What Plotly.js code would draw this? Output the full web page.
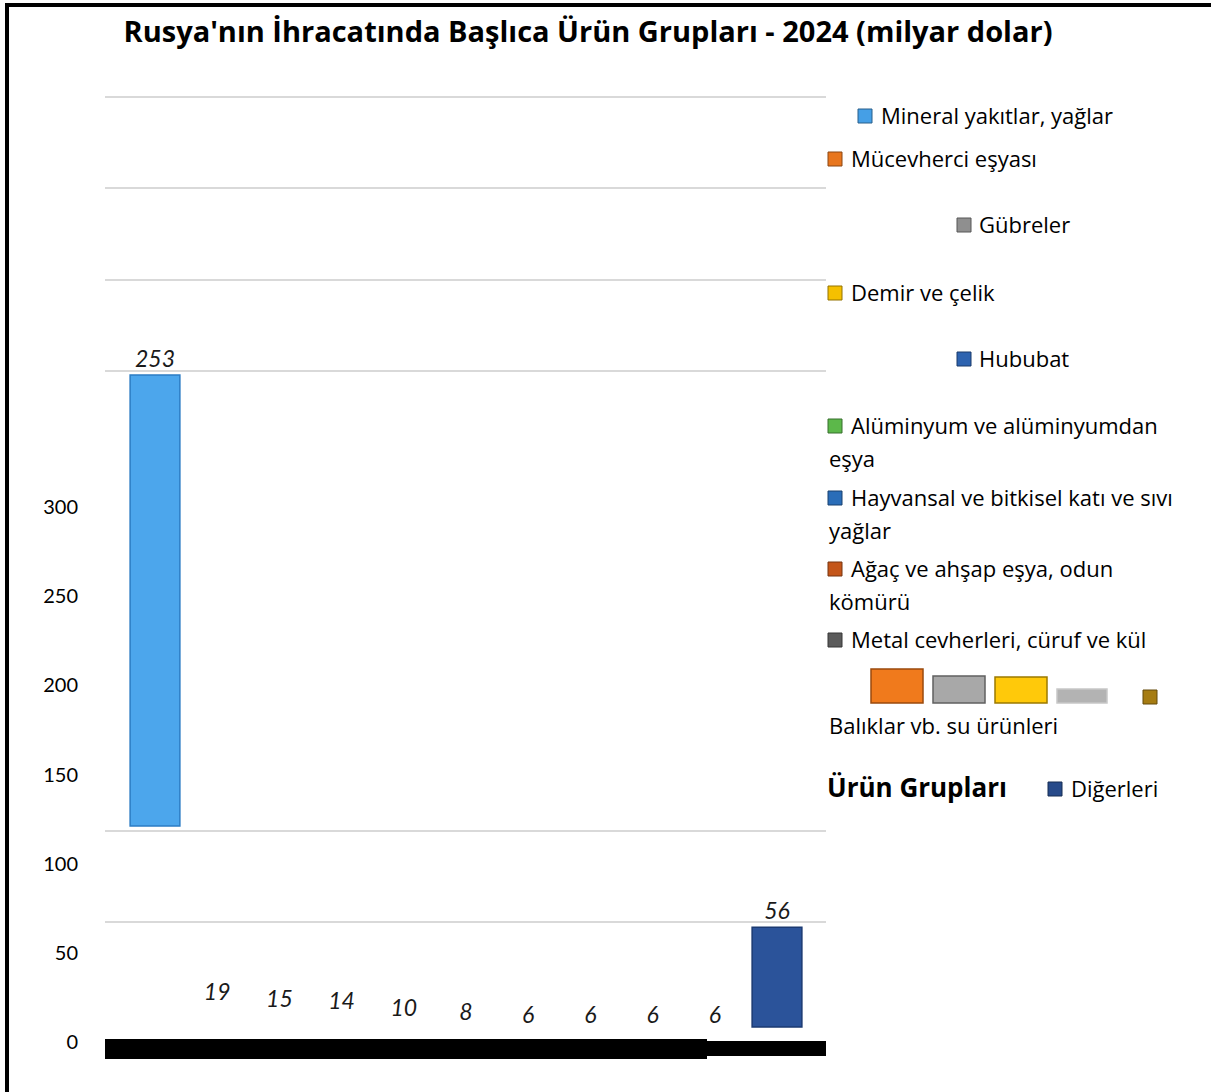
<!DOCTYPE html>
<html><head><meta charset="utf-8">
<script src="https://cdn.plot.ly/plotly-3.0.1.min.js"></script>
<style>html,body{margin:0;padding:0;background:#fff;}#chart{width:1215px;height:1092px;}</style>
</head><body><div id="chart"></div>
<script>
// ---------------- data ----------------
const categories = [
  'Mineral yakıtlar, yağlar',
  'Mücevherci eşyası',
  'Gübreler',
  'Demir ve çelik',
  'Hububat',
  'Alüminyum ve alüminyumdan eşya',
  'Hayvansal ve bitkisel katı ve sıvı yağlar',
  'Ağaç ve ahşap eşya, odun kömürü',
  'Metal cevherleri, cüruf ve kül',
  'Balıklar vb. su ürünleri',
  'Diğerleri'
];
const values = [253, 19, 15, 14, 10, 8, 6, 6, 6, 6, 56];
const colors = ['#459fe6', '#e8761e', '#8f8f8f', '#f5c000', '#2d63b0', '#5cb84a',
                '#2a6db8', '#c4561a', '#5b5b5b', '#a67c12', '#274a8a'];
const yTickValues = [0, 50, 100, 150, 200, 250, 300];
const titleText = "Rusya'nın İhracatında Başlıca Ürün Grupları - 2024 (milyar dolar)";
const legendTitle = 'Ürün Grupları';

// ---------------- layout geometry ----------------
const W = 1215, H = 1092, L = 105, R = 826, T = 97, B = 1042;
const px = x => (x - L) / (R - L);
const py = y => (B - y) / (B - T);
const yMax = 530;
const unitPx = (B - T) / yMax;
const rangeWithBaseline = basePx => { const off = (B - basePx) / unitPx; return [-off, yMax - off]; };

const FONT = 'Lato, "Open Sans", sans-serif';
const TEXTFONT = '"Open Sans", Lato, sans-serif';
const labelFont = {family: FONT, size: 23, color: '#1a1a1a', style: 'italic'};

const first = 0, last = categories.length - 1;
const mid = categories.map((c, i) => i).filter(i => i !== first && i !== last);

const traces = [
  {
    type: 'bar', x: mid.map(i => categories[i]), y: mid.map(i => values[i]),
    marker: {color: 'rgba(0,0,0,0)'}, texttemplate: '%{y}', textposition: 'outside',
    textfont: labelFont, cliponaxis: false, constraintext: 'none',
    yaxis: 'y', hoverinfo: 'skip', showlegend: false
  },
  {
    type: 'bar', x: [categories[first]], y: [values[first]],
    marker: {color: '#4ca6ec', line: {color: '#2b7cc4', width: 1.5}},
    texttemplate: '%{y}', textposition: 'outside', textfont: labelFont,
    cliponaxis: false, constraintext: 'none', yaxis: 'y2', hoverinfo: 'skip', showlegend: false
  },
  {
    type: 'bar', x: [categories[last]], y: [values[last]],
    marker: {color: '#2b539a', line: {color: '#1b3a72', width: 1.5}},
    texttemplate: '%{y}', textposition: 'outside', textfont: labelFont,
    cliponaxis: false, constraintext: 'none', yaxis: 'y3', hoverinfo: 'skip', showlegend: false
  }
];

// ---------------- decorations ----------------
const shapes = [];
const gridPx = [97, 188, 280, 371, 831, 922];
gridPx.forEach(g => shapes.push({type: 'line', xref: 'paper', yref: 'paper', x0: 0, x1: 1,
  y0: py(g), y1: py(g), line: {color: '#d9d9d9', width: 2}, layer: 'below'}));
// heavy base line
shapes.push({type: 'rect', xref: 'paper', yref: 'paper', x0: px(105), x1: px(707), y0: py(1059), y1: py(1039),
  fillcolor: '#000', line: {width: 0}});
shapes.push({type: 'rect', xref: 'paper', yref: 'paper', x0: px(707), x1: px(826), y0: py(1056), y1: py(1041),
  fillcolor: '#000', line: {width: 0}});
// frame
shapes.push({type: 'line', xref: 'paper', yref: 'paper', x0: px(7), x1: px(7), y0: py(3), y1: py(1092),
  line: {color: '#000', width: 4}});
shapes.push({type: 'line', xref: 'paper', yref: 'paper', x0: px(5), x1: px(1211), y0: py(5), y1: py(5),
  line: {color: '#000', width: 4}});

// legend layout (pixel positions)
const legendLayout = [
  {icon: [858, 116], text: [879, 115]},
  {icon: [828, 159], text: [849, 158]},
  {icon: [957, 225], text: [977, 224]},
  {icon: [828, 293], text: [849, 292]},
  {icon: [957, 359], text: [977, 358]},
  {icon: [828, 426], text: [849, 425], wrap: 3, line2: [827, 458]},
  {icon: [828, 498], text: [849, 497], wrap: 6, line2: [827, 530]},
  {icon: [828, 569], text: [849, 568], wrap: 5, line2: [827, 601]},
  {icon: [828, 640], text: [849, 639]},
  {icon: [1143, 697], text: [827, 725]},
  {icon: [1048, 789], text: [1069, 788]}
];
const legendFont = {family: TEXTFONT, size: 22, color: '#000'};
const annotations = [];
const ICON = 14;
function shade(hex, f) {
  const n = parseInt(hex.slice(1), 16);
  const c = [(n >> 16) & 255, (n >> 8) & 255, n & 255].map(v => Math.max(0, Math.min(255, Math.round(v * f))));
  return 'rgb(' + c.join(',') + ')';
}
categories.forEach((name, i) => {
  const p = legendLayout[i];
  shapes.push({type: 'rect', xref: 'paper', yref: 'paper',
    x0: px(p.icon[0]), x1: px(p.icon[0] + ICON), y0: py(p.icon[1] + ICON / 2), y1: py(p.icon[1] - ICON / 2),
    fillcolor: colors[i], line: {color: shade(colors[i], 0.6), width: 1}});
  const words = name.split(' ');
  const l1 = p.wrap ? words.slice(0, p.wrap).join(' ') : name;
  annotations.push({xref: 'paper', yref: 'paper', x: px(p.text[0]), y: py(p.text[1]), text: l1,
    xanchor: 'left', yanchor: 'middle', showarrow: false, font: legendFont});
  if (p.wrap) {
    annotations.push({xref: 'paper', yref: 'paper', x: px(p.line2[0]), y: py(p.line2[1]),
      text: words.slice(p.wrap).join(' '), xanchor: 'left', yanchor: 'middle', showarrow: false, font: legendFont});
  }
});
annotations.push({xref: 'paper', yref: 'paper', x: px(825), y: py(787), text: '<b>' + legendTitle + '</b>',
  xanchor: 'left', yanchor: 'middle', showarrow: false, font: {family: TEXTFONT, size: 26, color: '#000'}});
// stray legend swatches
const swatches = [
  {x: [871, 923], y: [669, 703], c: '#f07a1c', e: '#9a4a0c'},
  {x: [933, 985], y: [676, 703], c: '#a8a8a8', e: '#606060'},
  {x: [995, 1047], y: [677, 703], c: '#ffc90a', e: '#9c7a00'},
  {x: [1057, 1107], y: [689, 703], c: '#b3b3b3', e: '#c8c8c8'}
];
swatches.forEach(s => shapes.push({type: 'rect', xref: 'paper', yref: 'paper',
  x0: px(s.x[0]), x1: px(s.x[1]), y0: py(s.y[1]), y1: py(s.y[0]), fillcolor: s.c, line: {color: s.e, width: 1.5}}));

const layout = {
  width: W, height: H,
  margin: {l: L, r: W - R, t: T, b: H - B, pad: 0},
  paper_bgcolor: '#fff', plot_bgcolor: 'rgba(0,0,0,0)',
  title: {text: '<b>' + titleText + '</b>', font: {family: TEXTFONT, size: 29, color: '#000'},
    xref: 'paper', x: px(588), xanchor: 'center', yref: 'container', y: 1 - 32 / H, yanchor: 'middle'},
  showlegend: false,
  bargap: 0.2,
  xaxis: {type: 'category', categoryorder: 'array', categoryarray: categories,
    range: [-(155 - L) / 62.2, last + (R - 777) / 62.2],
    showticklabels: false, showgrid: false, zeroline: false, showline: false, ticks: ''},
  yaxis: {range: [0, yMax], tickvals: yTickValues, showgrid: false, zeroline: false, showline: false,
    ticks: '', ticklabelstandoff: 26, tickfont: {family: FONT, size: 20, color: '#000'}},
  yaxis2: {overlaying: 'y', range: rangeWithBaseline(826), visible: false},
  yaxis3: {overlaying: 'y', range: rangeWithBaseline(1027), visible: false},
  shapes: shapes,
  annotations: annotations
};

Plotly.newPlot('chart', traces, layout, {displayModeBar: false, staticPlot: true});
</script>
</body></html>
